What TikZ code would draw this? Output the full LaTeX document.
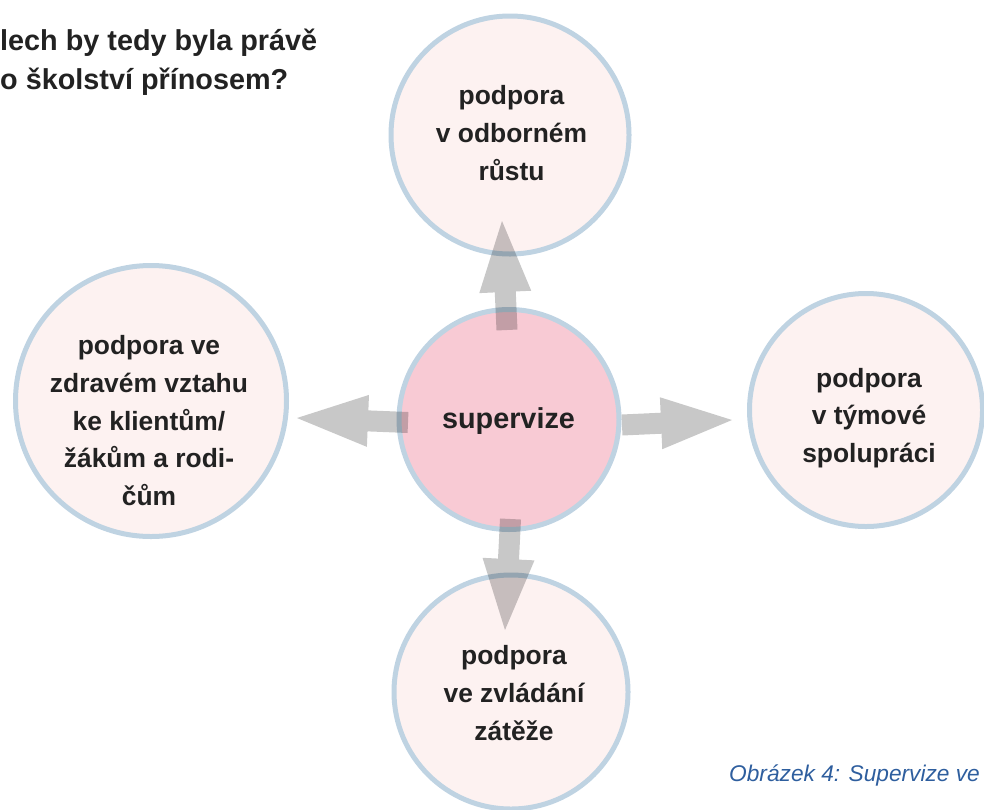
\documentclass[tikz,border=0pt]{standalone}
\usepackage{fontspec}
\setmainfont{Liberation Sans}
\usetikzlibrary{calc}
\definecolor{ringblue}{RGB}{191,211,226}
\definecolor{softpink}{RGB}{253,242,241}
\definecolor{hotpink}{RGB}{248,202,212}
\definecolor{arrgray}{RGB}{200,200,200}
\definecolor{inkdark}{RGB}{34,34,34}
\definecolor{capblue}{RGB}{46,94,158}
\tikzset{
  circ/.style={circle, draw=ringblue, line width=5pt, fill=softpink, inner sep=0pt},
  midcirc/.style={circ, fill=hotpink},
  lbl/.style={inner sep=0pt, align=center, text=inkdark, font=\fontsize{26.4}{37.7}\selectfont\bfseries},
  arrowfill/.style={fill=arrgray, blend mode=multiply},
}
\newcommand\blockarrow[3]{%
  \coordinate (#1b) at ($(#3)!71pt!(#2)$);
  \fill[arrowfill] ($(#2)!10.5pt!90:(#3)$) -- ($(#1b)!10.5pt!90:(#3)$) -- ($(#1b)!26pt!90:(#3)$) -- (#3)
    -- ($(#1b)!26pt!-90:(#3)$) -- ($(#1b)!10.5pt!-90:(#3)$) -- ($(#2)!10.5pt!-90:(#3)$) -- cycle;
}
\begin{document}
\begin{tikzpicture}[x=1pt, y=-1pt]
\useasboundingbox (0,0) rectangle (984,809);
\clip (0,0) rectangle (984,809);
% circles
\node[circ, minimum size=238pt] (top) at (510,135) {};
\node[circ, minimum size=271pt] (left) at (151,401) {};
\node[circ, minimum size=233pt] (right) at (866,410) {};
\node[circ, minimum size=234pt] (bottom) at (511,692) {};
\node[midcirc, minimum size=220pt] (mid) at (509,419.5) {};
% arrows
\coordinate (upT) at (507,330); \coordinate (upH) at (502,221);
\coordinate (leftT) at (408,422.5); \coordinate (leftH) at (297,418);
\coordinate (rightT) at (622,425); \coordinate (rightH) at (732,420);
\coordinate (downT) at (510.5,519); \coordinate (downH) at (505,630);
\blockarrow{up}{upT}{upH}
\blockarrow{lf}{leftT}{leftH}
\blockarrow{rt}{rightT}{rightH}
\blockarrow{dn}{downT}{downH}
% labels
\node[lbl] (topt) at (511.5,133.1) {podpora\\v odborném\\růstu};
\node[lbl] (leftt) at (149,420.8) {podpora ve\\zdravém vztahu\\ke klientům/\\žákům a rodi-\\čům};
\node[lbl] (rightt) at (869,417.9) {podpora\\v týmové\\spolupráci};
\node[lbl] (bottomt) at (514,693.1) {podpora\\ve zvládání\\zátěže};
\node[inner sep=0pt, anchor=base, text=inkdark, font=\fontsize{28.8}{34}\selectfont\bfseries] (midt) at (508.5,428) {supervize};
% title and caption
\node[inner sep=0pt, anchor=base west, text=inkdark, font=\fontsize{28.8}{38}\selectfont\bfseries] (title1) at (0,50) {lech by tedy byla právě};
\node[inner sep=0pt, anchor=base west, text=inkdark, font=\fontsize{28.8}{38}\selectfont\bfseries] (title2) at (0,89) {o školství přínosem?};
\node[inner sep=0pt, anchor=base west, text=capblue, font=\fontsize{22.7}{27}\selectfont\itshape] (cap) at (729,781) {Obrázek 4: Supervize ve};
\end{tikzpicture}
\end{document}
